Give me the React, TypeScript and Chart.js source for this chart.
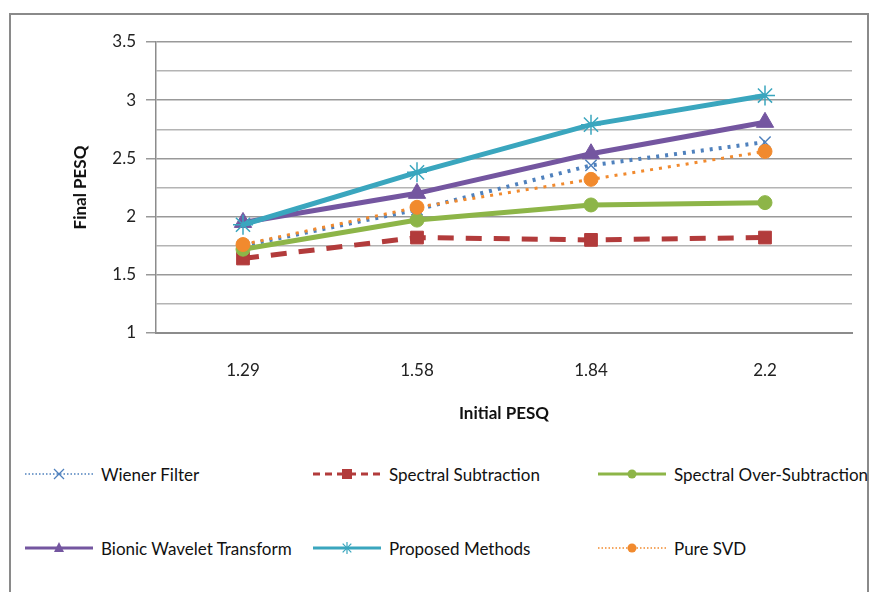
import React, { useEffect, useRef } from 'react';
import { Chart, registerables } from 'chart.js';

Chart.register(...registerables);

const categories = ['1.29', '1.58', '1.84', '2.2'];
const wiener = [1.75, 2.06, 2.44, 2.64];
const spectralSub = [1.64, 1.82, 1.8, 1.82];
const spectralOver = [1.72, 1.97, 2.1, 2.12];
const bionic = [1.95, 2.2, 2.54, 2.81];
const proposed = [1.93, 2.38, 2.79, 3.04];
const pureSvd = [1.76, 2.08, 2.32, 2.56];
const seriesNames = [
  'Wiener Filter',
  'Spectral Subtraction',
  'Spectral Over-Subtraction',
  'Bionic Wavelet Transform',
  'Proposed Methods',
  'Pure SVD',
];

const FONT = 'Lato, "Open Sans", sans-serif';
const CANVAS_H = 430;

type Style = {
  color: string;
  width: number;
  dash: number[];
  point: string;
  radius: number;
  pointFill: string;
  pointBorder: number;
};

const styles: Style[] = [
  { color: '#4F81BD', width: 4, dash: [3, 6], point: 'crossRot', radius: 8, pointFill: '#4F81BD', pointBorder: 1.5 },
  { color: '#B23B3B', width: 5, dash: [16, 12], point: 'rect', radius: 9, pointFill: '#B23B3B', pointBorder: 1 },
  { color: '#8DB548', width: 5, dash: [], point: 'circle', radius: 7, pointFill: '#8DB548', pointBorder: 1 },
  { color: '#7456A0', width: 5, dash: [], point: 'triangle', radius: 10, pointFill: '#7456A0', pointBorder: 1 },
  { color: '#3AA6BE', width: 5, dash: [], point: 'star', radius: 10, pointFill: '#3AA6BE', pointBorder: 1.5 },
  { color: '#F18A2E', width: 3, dash: [3, 6], point: 'circle', radius: 7, pointFill: '#F18A2E', pointBorder: 1 },
];

const seriesData = [wiener, spectralSub, spectralOver, bionic, proposed, pureSvd];

function LegendSample({ s }: { s: Style }) {
  const w = 68;
  const h = 20;
  const cy = h / 2;
  const cx = w / 2;
  let marker: React.ReactNode = null;
  if (s.point === 'crossRot') {
    const r = 5;
    marker = (
      <g stroke={s.color} strokeWidth={1.3}>
        <line x1={cx - r} y1={cy - r} x2={cx + r} y2={cy + r} />
        <line x1={cx - r} y1={cy + r} x2={cx + r} y2={cy - r} />
      </g>
    );
  } else if (s.point === 'rect') {
    marker = <rect x={cx - 5} y={cy - 5} width={10} height={10} fill={s.color} />;
  } else if (s.point === 'circle') {
    marker = <circle cx={cx} cy={cy} r={4.5} fill={s.color} />;
  } else if (s.point === 'triangle') {
    marker = <polygon points={`${cx},${cy - 6} ${cx + 5},${cy + 4} ${cx - 5},${cy + 4}`} fill={s.color} />;
  } else if (s.point === 'star') {
    const r = 6;
    marker = (
      <g stroke={s.color} strokeWidth={1.2}>
        <line x1={cx - r} y1={cy} x2={cx + r} y2={cy} />
        <line x1={cx} y1={cy - r} x2={cx} y2={cy + r} />
        <line x1={cx - 4.3} y1={cy - 4.3} x2={cx + 4.3} y2={cy + 4.3} />
        <line x1={cx - 4.3} y1={cy + 4.3} x2={cx + 4.3} y2={cy - 4.3} />
      </g>
    );
  }
  const isRect = s.point === 'rect';
  const dotted = s.dash.length > 0 && !isRect;
  return (
    <svg width={w} height={h} style={{ display: 'block' }}>
      <line
        x1={0}
        y1={cy}
        x2={w}
        y2={cy}
        stroke={s.color}
        strokeWidth={dotted ? 1.5 : 3}
        strokeDasharray={isRect ? '7 5' : dotted ? '1.5 2' : undefined}
      />
      {marker}
    </svg>
  );
}

export default function App() {
  const canvasRef = useRef<HTMLCanvasElement | null>(null);

  useEffect(() => {
    const canvas = canvasRef.current;
    if (!canvas) return;
    const isMajor = (n: number) => Math.abs(n * 2 - Math.round(n * 2)) < 1e-6;
    const chart = new Chart(canvas, {
      type: 'line',
      data: {
        labels: categories,
        datasets: seriesData.map((d, i) => ({
          label: seriesNames[i],
          data: d,
          borderColor: styles[i].color,
          backgroundColor: styles[i].pointFill,
          borderWidth: styles[i].width,
          borderDash: styles[i].dash,
          borderCapStyle: 'butt' as const,
          pointStyle: styles[i].point as any,
          pointRadius: styles[i].radius,
          pointBorderColor: styles[i].color,
          pointBackgroundColor: styles[i].pointFill,
          pointBorderWidth: styles[i].pointBorder,
          tension: 0,
          fill: false,
          order: 6 - i,
        })),
      },
      options: {
        animation: false,
        responsive: false,
        maintainAspectRatio: false,
        layout: { padding: { left: 62, right: 21, top: 42, bottom: 0 } },
        plugins: {
          legend: { display: false },
          tooltip: { enabled: false },
        },
        scales: {
          x: {
            offset: true,
            afterFit: (s: any) => {
              s.height = CANVAS_H - 333;
            },
            grid: { display: false, drawTicks: false },
            border: { display: true, color: '#8c8c8c', width: 2 },
            ticks: { color: '#222', font: { family: FONT, size: 17 }, padding: 27 },
            title: {
              display: true,
              text: 'Initial PESQ',
              color: '#111',
              font: { family: FONT, size: 17, weight: 'bold' },
              padding: { top: 10, bottom: 6 },
            },
          },
          y: {
            min: 1,
            max: 3.5,
            afterFit: (s: any) => {
              s.width = 156 - 62;
            },
            ticks: {
              stepSize: 0.25,
              autoSkip: false,
              color: '#222',
              font: { family: FONT, size: 17 },
              padding: 10,
              callback: (v: any) => {
                const n = Number(v);
                return isMajor(n) ? String(n) : '';
              },
            },
            grid: {
              color: (ctx: any) => {
                const n = ctx.tick ? ctx.tick.value : 0;
                return isMajor(n) ? '#999999' : '#b4b4b4';
              },
              tickColor: (ctx: any) => {
                const n = ctx.tick ? ctx.tick.value : 0;
                return isMajor(n) ? '#999999' : 'rgba(0,0,0,0)';
              },
              tickLength: 10,
              lineWidth: 1.5,
            },
            border: { display: true, color: '#8c8c8c', width: 1.5 },
            title: {
              display: true,
              text: 'Final PESQ',
              color: '#111',
              font: { family: FONT, size: 17, weight: 'bold' },
              padding: { top: 8, bottom: 0 },
            },
          },
        },
      },
    });
    return () => chart.destroy();
  }, []);

  const legendRows = [
    [0, 1, 2],
    [3, 4, 5],
  ];
  const colX = [25, 313, 598];
  const rowY = [464, 538];

  return (
    <div
      style={{
        position: 'absolute',
        left: 0,
        top: 0,
        width: 873,
        height: 592,
        overflow: 'hidden',
        background: '#fff',
        fontFamily: FONT,
      }}
    >
      <div
        style={{
          position: 'absolute',
          left: 9,
          top: 13,
          width: 860,
          height: 579,
          borderTop: '2px solid #8a8a8a',
          borderLeft: '2px solid #8a8a8a',
          borderRight: '2px solid #8a8a8a',
          boxSizing: 'border-box',
        }}
      />
      <canvas
        ref={canvasRef}
        width={873}
        height={CANVAS_H}
        style={{ position: 'absolute', left: 0, top: 0, width: 873, height: CANVAS_H }}
      />
      {legendRows.map((row, ri) =>
        row.map((si, ci) => (
          <div
            key={si}
            style={{
              position: 'absolute',
              left: colX[ci],
              top: rowY[ri],
              height: 20,
              display: 'flex',
              alignItems: 'center',
              whiteSpace: 'nowrap',
              fontSize: 17,
              color: '#111',
            }}
          >
            <LegendSample s={styles[si]} />
            <span style={{ marginLeft: 8 }}>{seriesNames[si]}</span>
          </div>
        ))
      )}
    </div>
  );
}
